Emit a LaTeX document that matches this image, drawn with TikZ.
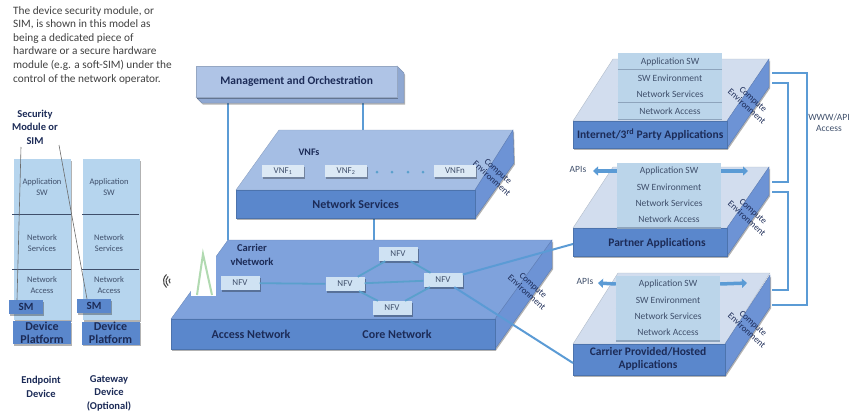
\documentclass[tikz,border=0pt]{standalone}
\usepackage{fontspec}
\setmainfont{Carlito}
\usetikzlibrary{shapes,arrows.meta,positioning,shadows}

\definecolor{linkblue}{HTML}{5B9BD5}
\definecolor{navy}{HTML}{1C2B57}
\definecolor{slate}{HTML}{3F4F6B}
\definecolor{rowfill}{HTML}{BBD5EA}
\definecolor{rowedge}{HTML}{8EA4BC}
\definecolor{devfill}{HTML}{B6D5EE}
\definecolor{frontblue}{HTML}{5A87CC}
\definecolor{sideblue}{HTML}{6D93D5}
\definecolor{carriertop}{HTML}{7FA2DC}
\definecolor{nstop}{HTML}{A5BEE4}
\definecolor{apptop}{HTML}{D2DDEE}
\definecolor{meshblue}{HTML}{5AA0CC}
\definecolor{nfvfill}{HTML}{CFE2F3}
\definecolor{vnffill}{HTML}{DCE9F5}
\definecolor{manofront}{HTML}{AFC4E6}
\definecolor{manoside}{HTML}{8FA8D2}

\tikzset{
    txt/.style={font=\fontsize{#1}{11}\selectfont, text=slate, inner sep=0pt, align=center},
    head/.style={font=\fontsize{#1}{13.5}\selectfont\bfseries, text=navy, inner sep=0pt, align=center},
    soft/.style={general shadow={shadow xshift=1pt, shadow yshift=-1.5pt, opacity=.3, fill=black}},
    topface/.style={fill=#1, draw=#1!85!black, line width=.4pt},
    sideface/.style={fill=#1, draw=#1!85!black, line width=.4pt, soft},
    frontbox/.style={rectangle, fill=#1, draw=#1!85!black, line width=.4pt, inner sep=0pt, soft},
    rowbox/.style={rectangle, fill=rowfill, inner sep=0pt, minimum width=104pt, minimum height=16.5pt,
        font=\fontsize{9.5}{9.5}\selectfont, text=slate},
    rowline/.style={draw=rowedge, line width=1.6pt},
    funcbox/.style={rectangle, fill=#1, inner sep=0pt, minimum height=14pt, minimum width=39pt,
        font=\fontsize{9}{9}\selectfont, text=slate, soft},
    devbox/.style={rectangle, fill=devfill, inner sep=0pt, minimum width=57pt, minimum height=161pt, soft},
    platbox/.style={rectangle, fill=frontblue, inner sep=0pt, minimum width=58pt, minimum height=23pt,
        font=\fontsize{12}{13}\selectfont\bfseries, text=navy, align=center, soft},
    smbox/.style={rectangle, fill=frontblue, inner sep=0pt, minimum width=34pt, minimum height=14pt,
        font=\fontsize{11}{11}\selectfont\bfseries, text=navy, soft},
    link/.style={draw=linkblue, line width=2pt},
    meshline/.style={draw=meshblue, line width=1.8pt},
    apiarrow/.style={draw=linkblue, line width=3.5pt, -{Triangle[width=9pt,length=5pt]}},
    divider/.style={draw=slate, line width=.8pt},
    pointer/.style={draw=gray!85!black, line width=.6pt},
    compute/.style={font=\fontsize{9}{9.5}\selectfont, text=navy, inner sep=0pt, align=center, rotate=-42},
}

\begin{document}
\begin{tikzpicture}[x=1pt,y=-1pt]
    \useasboundingbox (0,0) rectangle (852,416);

    % Note on the security module
    \node[anchor=north west, inner sep=0pt, align=left, text=black!75,
        font=\fontsize{11.3}{13.6}\selectfont] (note) at (13,6) {The device security module, or\\
        SIM, is shown in this model as\\
        being a dedicated piece of\\
        hardware or a secure hardware\\
        module (e.g. a soft-SIM) under the\\
        control of the network operator.};

    % Device stacks
    \node[head=10.5] (simlabel) at (35,127) {Security\\Module or\\SIM};

    \node[devbox] (endpoint) at (42.5,239.5) {};
    \node[devbox] (gateway) at (111,239.5) {};
    \foreach \y in {214,269} {
        \draw[divider] (12,\y) -- (71,\y);
        \draw[divider] (82,\y) -- (139,\y);
    }
    \foreach \x/\d in {42/a,109/b} {
        \node[txt=8.5] (app\d) at (\x,187) {Application\\SW};
        \node[txt=8.5] (svc\d) at (\x,243) {Network\\Services};
        \node[txt=8.5] (acc\d) at (\x,285) {Network\\Access};
    }
    \node[platbox] (plata) at (42,332.5) {Device\\Platform};
    \node[platbox] (platb) at (110.5,333) {Device\\Platform};
    \node[smbox] (sma) at (26,307) {SM};
    \node[smbox] (smb) at (94,306) {SM};

    \coordinate (simleft) at (21,147);
    \coordinate (simright) at (59,145);
    \coordinate (smaend) at (17,300);
    \coordinate (smbend) at (87,299);
    \draw[pointer] (simleft) -- (smaend);
    \draw[pointer] (simright) -- (smbend);

    \node[head=10.5] (endlabel) at (41,387) {Endpoint\\Device};
    \node[head=10.5] (gatelabel) at (109,393) {Gateway\\Device\\(Optional)};

    % Links behind the blocks
    \coordinate (manoa) at (228,103);
    \coordinate (carriera) at (228,240);
    \coordinate (manob) at (363,103);
    \coordinate (nsback) at (363,130);
    \coordinate (nsfront) at (374,218);
    \coordinate (carrierb) at (374,240);
    \draw[link] (manoa) -- (carriera);
    \draw[link] (manob) -- (nsback);
    \draw[link] (nsfront) -- (carrierb);

    % Management and orchestration
    \draw[sideface=manoside] (196,97) -- (202,103) -- (404,103) -- (404,73) -- (397,66) -- (397,97) -- cycle;
    \node[frontbox=manofront, anchor=north west, minimum width=201pt, minimum height=31pt,
        font=\fontsize{11.5}{11.5}\selectfont\bfseries, text=navy] (mano) at (196,66) {Management and Orchestration};

    % Network services block
    \draw[topface=nstop] (279,130) -- (513,130) -- (475,190) -- (236,190) -- cycle;
    \draw[sideface=sideblue] (475,190) -- (513,130) -- (514,163) -- (475,218) -- cycle;
    \node[frontbox=frontblue, anchor=north west, minimum width=239pt, minimum height=28pt,
        font=\fontsize{12}{12}\selectfont\bfseries, text=navy] (netsvc) at (236,190) {Network Services};
    \node[compute] (netsvccomp) at (495,175) {Compute\\Environment};
    \node[head=10] (vnflabel) at (309,152) {VNFs};
    \node[funcbox=vnffill, minimum width=42pt, minimum height=12pt] (vnfa) at (283,171) {VNF\textsubscript{1}};
    \node[funcbox=vnffill, minimum width=42pt, minimum height=12pt] (vnfb) at (346,171) {VNF\textsubscript{2}};
    \node[funcbox=vnffill, minimum width=42pt, minimum height=12pt] (vnfn) at (455,171) {VNFn};
    \foreach \x in {377,392,408,423} {
        \fill[meshblue] (\x,172) circle (1.5);
    }

    % Links between the application blocks
    \coordinate (netfronta) at (772,73);
    \coordinate (netfrontb) at (807,73);
    \coordinate (netfrontc) at (807,305);
    \coordinate (netfrontd) at (772,305);
    \coordinate (neta) at (772,83);
    \coordinate (netb) at (788,83);
    \coordinate (netc) at (788,182);
    \coordinate (netd) at (772,182);
    \coordinate (nete) at (772,192);
    \coordinate (netf) at (788,192);
    \coordinate (netg) at (788,290);
    \coordinate (neth) at (772,290);
    \draw[link] (netfronta) -- (netfrontb) -- (netfrontc) -- (netfrontd);
    \draw[link] (neta) -- (netb) -- (netc) -- (netd);
    \draw[link] (nete) -- (netf) -- (netg) -- (neth);
    \node[txt=9.5] (wwwlabel) at (829,122.5) {WWW/API\\Access};

    % Carrier block
    \draw[topface=carriertop] (228,240) -- (552,240) -- (495,319) -- (171,319) -- cycle;
    \draw[sideface=sideblue] (495,319) -- (552,240) -- (552,268) -- (495,349) -- cycle;
    \node[frontbox=frontblue, anchor=north west, minimum width=324pt, minimum height=30pt] (carrier) at (171,319) {};
    \node[compute] (carriercomp) at (530,289) {Compute\\Environment};
    \node[head=10.5] (carrierlabel) at (252,255) {Carrier\\vNetwork};
    \node[head=12] (accesslabel) at (251,334) {Access Network};
    \node[head=12] (corelabel) at (397,334) {Core Network};

    % Cell site
    \node[rectangle, fill=white, minimum width=25pt, minimum height=44pt, inner sep=0pt] (tower) at (203.5,274) {};
    \coordinate (towertop) at (203,254);
    \coordinate (towerl) at (197,295);
    \coordinate (towerr) at (212,295);
    \draw[green!35!gray!45, line width=2pt] (towerl) -- (towertop) -- (towerr);
    \foreach \r in {3,6,8.5} {
        \draw[black!70, line width=1.1pt] (172,281) ++(130:\r) arc[start angle=130, end angle=230, radius=\r];
    }

    % Function mesh
    \node[funcbox=nfvfill] (nfva) at (240,283) {NFV};
    \node[funcbox=nfvfill] (nfvb) at (345,284) {NFV};
    \node[funcbox=nfvfill] (nfvc) at (398,254) {NFV};
    \node[funcbox=nfvfill] (nfvd) at (443,280) {NFV};
    \node[funcbox=nfvfill] (nfve) at (392,308) {NFV};
    \begin{scope}[on background layer/.style={}]
    \draw[meshline] (nfva) -- (nfvb);
    \draw[meshline] (nfvb) -- (nfvd);
    \draw[meshline] (nfvb) -- (nfvc);
    \draw[meshline] (nfvb) -- (nfve);
    \draw[meshline] (nfvc) -- (nfvd);
    \draw[meshline] (nfve) -- (nfvd);
    \end{scope}

    % Third party block
    \draw[topface=apptop] (613,59) -- (769,59) -- (727,121) -- (573,121) -- cycle;
    \draw[sideface=sideblue] (727,121) -- (769,59) -- (769,87) -- (727,148) -- cycle;
    \node[frontbox=frontblue, anchor=north west, minimum width=154pt, minimum height=27pt,
        font=\fontsize{11.5}{11.5}\selectfont\bfseries, text=navy] (inet) at (573,121) {Internet/3\textsuperscript{rd} Party Applications};
    \node[compute] (inetcomp) at (750,103) {Compute\\Environment};
    \foreach \i/\y/\t in {1/61.5/Application SW,2/78/SW Environment,3/94.5/Network Services,4/111/Network Access} {
        \node[rowbox] (inetrow\i) at (670,\y) {\t};
        \draw[rowline] (inetrow\i.south west) -- (inetrow\i.south east);
    }

    % Partner block
    \draw[topface=apptop] (613,167) -- (769,167) -- (727,228) -- (573,228) -- cycle;
    \draw[sideface=sideblue] (727,228) -- (769,167) -- (769,195) -- (727,256) -- cycle;
    \node[frontbox=frontblue, anchor=north west, minimum width=154pt, minimum height=28pt] (partner) at (573,228) {};
    \node[head=11.5] (partnerlabel) at (657,243) {Partner Applications};
    \node[compute] (partnercomp) at (750,215) {Compute\\Environment};
    \foreach \i/\y/\t in {1/171/Application SW,2/187/SW Environment,3/203/Network Services,4/219.5/Network Access} {
        \node[rowbox] (partrow\i) at (669,\y) {\t};
        \draw[rowline] (partrow\i.south west) -- (partrow\i.south east);
    }
    \coordinate (apileft) at (593,171);
    \coordinate (apiright) at (748,171);
    \draw[apiarrow] (partrow1.west) -- (apileft);
    \draw[apiarrow] (partrow1.east) -- (apiright);
    \node[txt=9.5] (apilabel) at (578,169) {APIs};

    % Hosted block
    \draw[topface=apptop] (618,273) -- (770,273) -- (725,344) -- (573,344) -- cycle;
    \draw[sideface=sideblue] (725,344) -- (770,275) -- (770,307) -- (725,375) -- cycle;
    \node[frontbox=frontblue, anchor=north west, minimum width=152pt, minimum height=31pt] (hosted) at (573,344) {};
    \node[head=11.5] (hostedlabel) at (648,359) {Carrier Provided/Hosted\\Applications};
    \node[compute] (hostedcomp) at (750,327) {Compute\\Environment};
    \foreach \i/\y/\t in {1/284/Application SW,2/300/SW Environment,3/316/Network Services,4/332.5/Network Access} {
        \node[rowbox] (hostrow\i) at (668,\y) {\t};
        \draw[rowline] (hostrow\i.south west) -- (hostrow\i.south east);
    }
    \coordinate (hostleft) at (598,283);
    \coordinate (hostright) at (747,283);
    \draw[apiarrow] (hostrow1.west) -- (hostleft);
    \draw[apiarrow] (hostrow1.east) -- (hostright);
    \node[txt=9.5] (hostapilabel) at (585,281) {APIs};

    % Links from the carrier block
    \coordinate (partnerin) at (573,244);
    \coordinate (hostedin) at (573,363);
    \draw[link] (nfvd) -- (partnerin);
    \draw[link] (nfvd) -- (hostedin);
\end{tikzpicture}
\end{document}
